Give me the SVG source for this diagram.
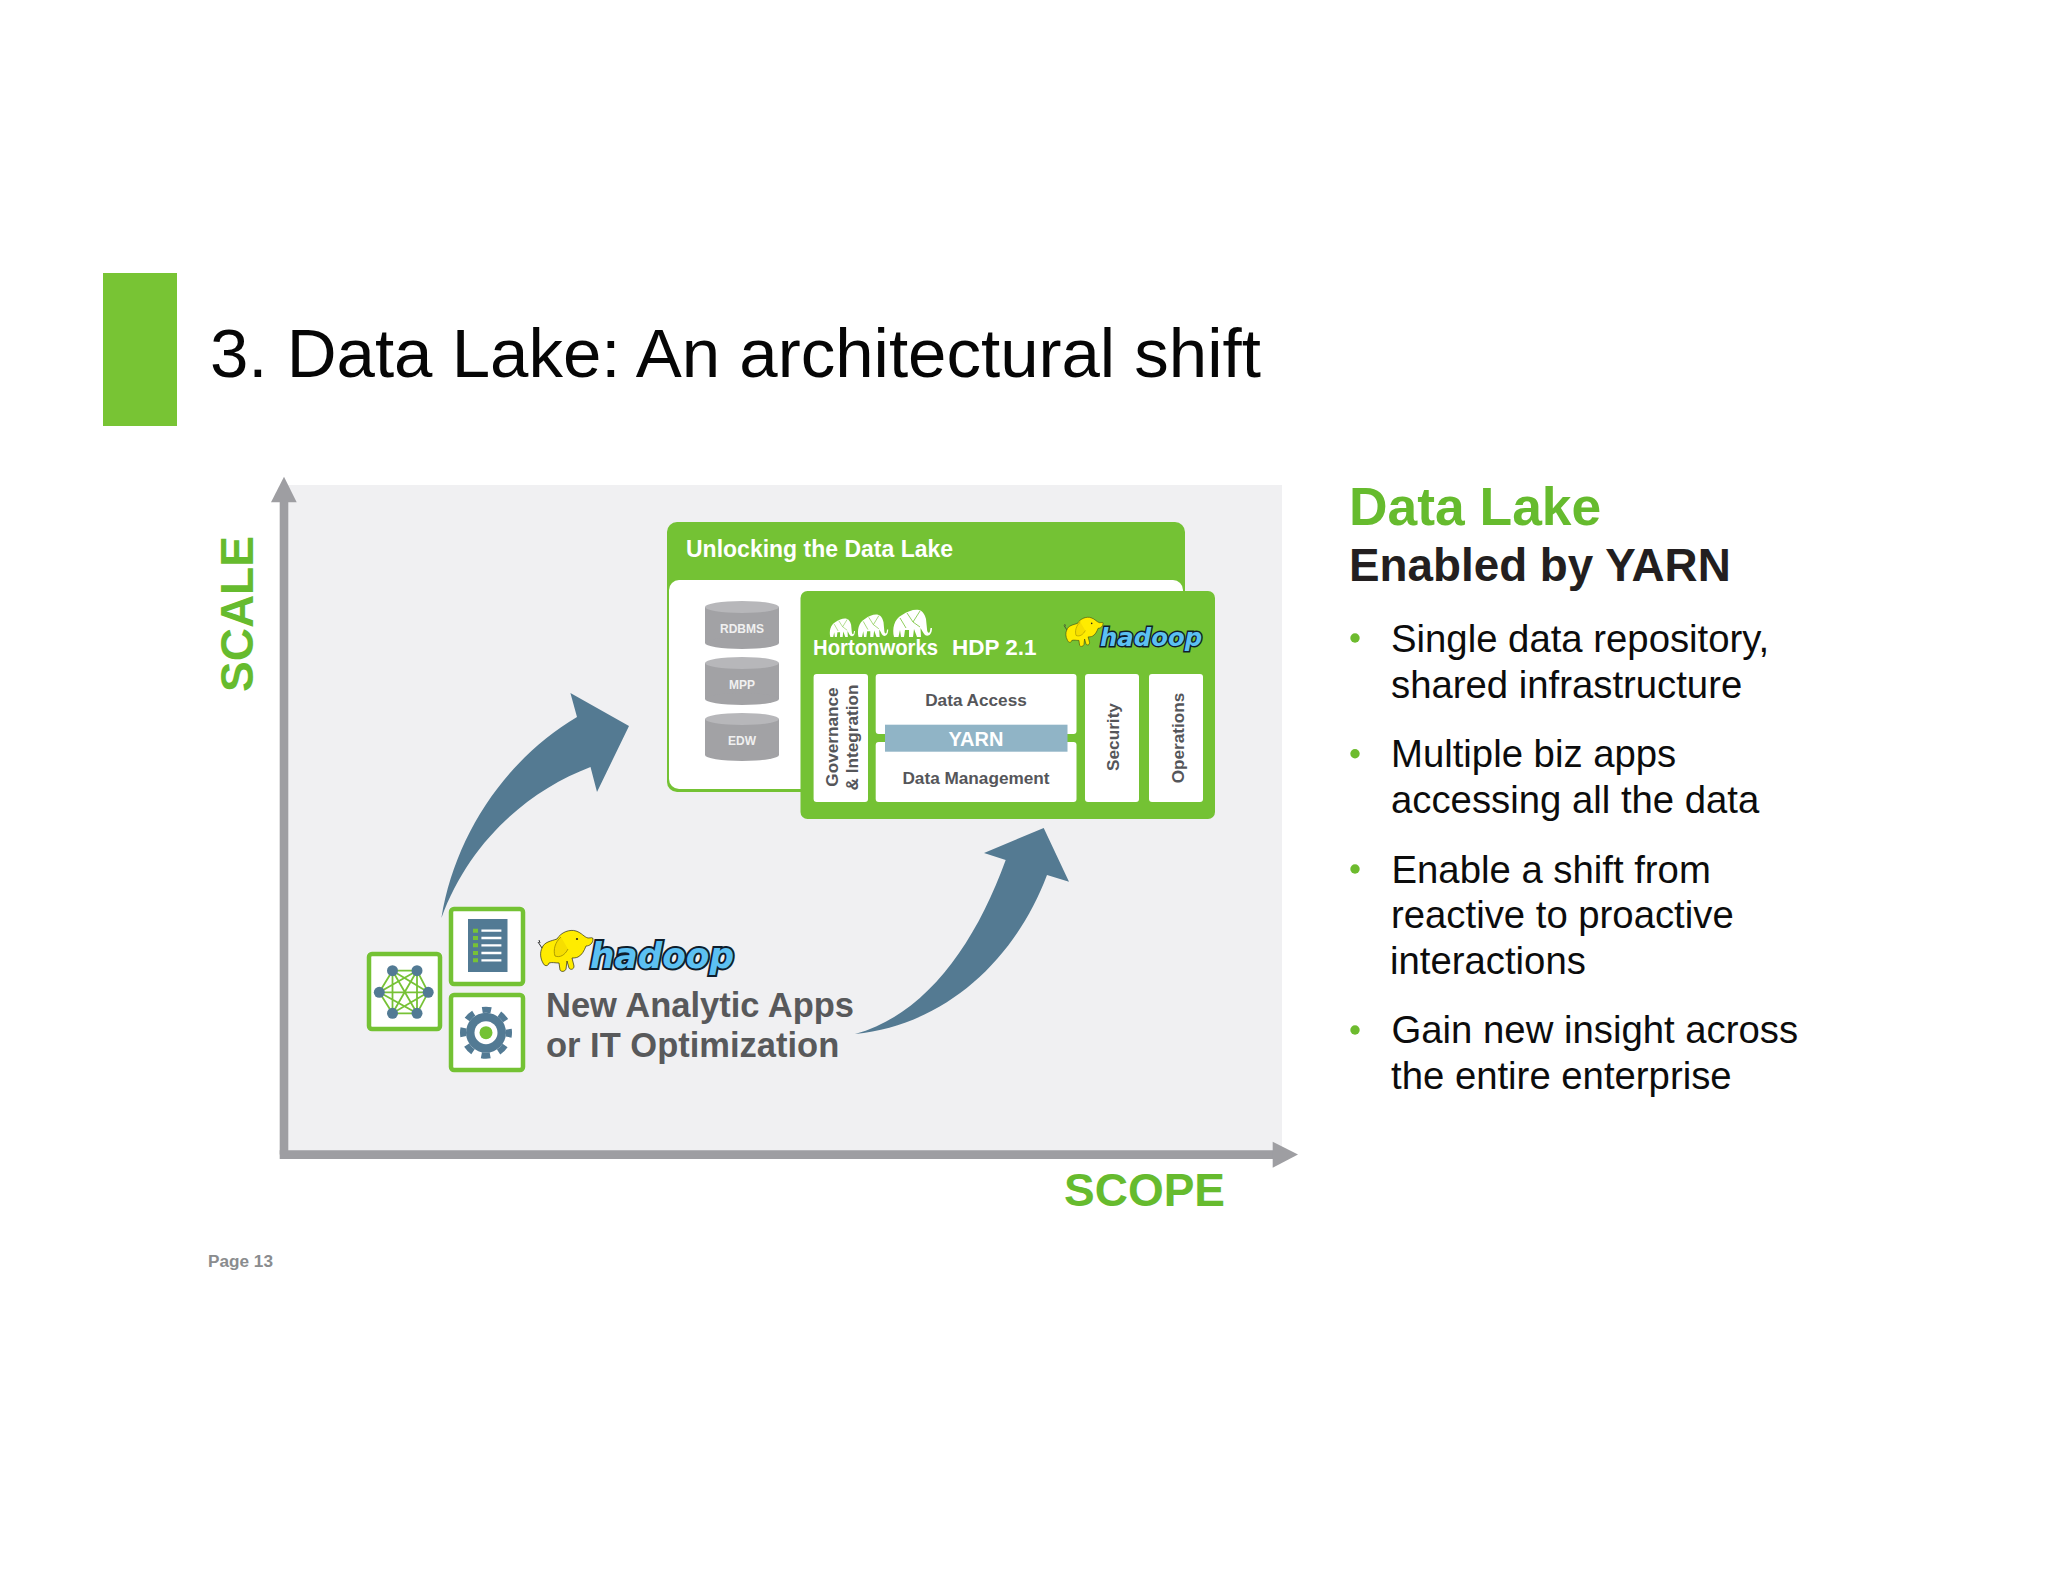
<svg xmlns="http://www.w3.org/2000/svg" xmlns:xlink="http://www.w3.org/1999/xlink" width="2048" height="1582" viewBox="0 0 2048 1582">
<style>
text{font-family:"Liberation Sans",Arial,sans-serif}
.b{font-weight:700}
.green{fill:#66bb2e}
.body{font-size:38.300px;fill:#0c0c0c}
.dot{fill:#6dbb2e}
.col{fill:#fff}
.lbl{font-size:17.200px;font-weight:700;fill:#55565a;text-anchor:middle}
.cyl{font-size:12px;font-weight:700;fill:#f0f0f0;text-anchor:middle}
.box{fill:#fff;stroke:#74c234;stroke-width:4.500}
.wht{font-weight:700;fill:#fff}
.app{font-size:34.500px;font-weight:700;fill:#58595b}
.hd{font-family:"DejaVu Sans","Liberation Sans",sans-serif;font-size:35px;font-weight:700;font-style:italic;fill:#5cc0f2;stroke:#0f1d2b;stroke-width:4px;paint-order:stroke;stroke-linejoin:miter}
.icon{fill:#527a94}
.ln{stroke:#77c236;stroke-width:1.800;fill:none}
</style>
<defs>
<g id="yellow">
<path d="M4 18C6 12 13 11 19 9C23 2 32-1 38 1C44 3 46 7 50 8C53 8 55 7 55 9C55 13 52 16 48 16C46 21 44 25 40 27C38 28 35 28 34 28L36 36C36 40 32 40 31 38L29 31L28 39C27 42 23 42 22 40L21 33C17 33 14 32 11 33C10 37 6 36 5 33C2 28 2 22 4 18Z" fill="#ffec00" stroke="#2a2a10" stroke-width=".7"/>
<path d="M23 7C17 12 15 20 17 26C22 28 27 25 30 19" fill="#f6de00" stroke="#9a8a00" stroke-width=".8"/>
<circle cx="39" cy="9" r="1.100" fill="#222"/>
<path d="M4 18L0 12M1 10L2 13" stroke="#333" stroke-width="1" fill="none"/>
</g>
<g id="white-el">
<path d="M2 28C0 20 2 10 10 6C16 2 22 0 27 1C31 2 33 6 34 10L35 20C35 24 37.500 25 38 22L38.500 19L40 19C40 26 36 28 33 26C31 24 30 21 28.500 19L29 28L25 28L22 20L21 28L17 28L17 21L13 21L12 28L9 28L8 21L6.500 28Z" fill="#fff"/>
<path d="M15 4L21 13L28 2M21 13L28 18M8 9L14 19" stroke="#74c234" stroke-width=".8" fill="none"/>
</g>
<g id="cyl">
<rect x="705" y="0" width="74" height="36" fill="#a2a2a5"/>
<ellipse cx="742" cy="36" rx="37" ry="6" fill="#a2a2a5"/>
<ellipse cx="742" cy="0" rx="37" ry="6" fill="#b7b7ba"/>
</g>
</defs>
<rect width="2048" height="1582" fill="#fff"/>
<rect id="accent-bar" x="103" y="273" width="74" height="153" fill="#78c434"/>
<text id="title" x="210" y="377" font-size="69" fill="#060606">3. Data Lake: An architectural shift</text>
<rect id="panel" x="288" y="485" width="994" height="666" fill="#f0f0f2"/>

<g id="connectors">
<path d="M284 1154.500V500" fill="none" stroke="#9e9ea2" stroke-width="8.600"/>
<polygon points="284,476.700 296.700,502.300 271,502.300" fill="#9e9ea2"/>
<path d="M279.700 1154.600H1275" fill="none" stroke="#9e9ea2" stroke-width="8.800"/>
<polygon points="1298,1154.500 1272.700,1141.700 1272.700,1167.700" fill="#9e9ea2"/>
<path d="M441.400 918C455 835 505 760 577 717L570.400 693L629 726L597 792L590.500 767C530 790 470 840 441.400 918Z" fill="#547a92"/>
<path d="M855 1034C925 1015 975 945 1005.700 860L984 853L1043.700 828L1069 881.700L1047 875C1015 960 945 1025 855 1034Z" fill="#547a92"/>
</g>

<g id="node-unlocking">
<rect x="667" y="522" width="518" height="270" rx="10" fill="#74c234"/>
<rect x="669" y="580" width="514" height="209" rx="10" fill="#fff"/>
<text class="wht" x="686" y="557" font-size="23">Unlocking the Data Lake</text>
</g>
<g id="node-rdbms"><use xlink:href="#cyl" href="#cyl" y="607"/><text class="cyl" x="742" y="633">RDBMS</text></g>
<g id="node-mpp"><use xlink:href="#cyl" href="#cyl" y="663"/><text class="cyl" x="742" y="689">MPP</text></g>
<g id="node-edw"><use xlink:href="#cyl" href="#cyl" y="719"/><text class="cyl" x="742" y="745">EDW</text></g>

<g id="node-hdp">
<rect x="800.500" y="591" width="414.500" height="228" rx="7" fill="#74c234"/>
<use xlink:href="#white-el" href="#white-el" transform="translate(829 618) scale(.65 .68)"/>
<use xlink:href="#white-el" href="#white-el" transform="translate(857 614) scale(.78 .82)"/>
<use xlink:href="#white-el" href="#white-el" transform="translate(892 609)"/>
<text class="wht" x="813" y="655" font-size="22" textLength="125" lengthAdjust="spacingAndGlyphs">Hortonworks</text>
<text class="wht" x="952" y="655" font-size="22.500">HDP 2.1</text>
<use xlink:href="#yellow" href="#yellow" transform="translate(1064 617) scale(.71)"/>
<text class="hd" x="0" y="0" transform="translate(1100 646) scale(.71)" textLength="144" lengthAdjust="spacingAndGlyphs">hadoop</text>
</g>
<g id="node-governance">
<rect class="col" x="813.600" y="674" width="54.400" height="128" rx="3"/>
<text class="lbl" transform="translate(837.700 737) rotate(-90)">Governance</text>
<text class="lbl" transform="translate(857.500 737.500) rotate(-90)">&amp; Integration</text>
</g>
<g id="node-data-access">
<rect class="col" x="875.700" y="674" width="200.800" height="60" rx="3"/>
<text class="lbl" x="976" y="706">Data Access</text>
</g>
<g id="node-data-management">
<rect class="col" x="875.700" y="742" width="200.800" height="60" rx="3"/>
<text class="lbl" x="976" y="784">Data Management</text>
</g>
<g id="node-yarn">
<rect x="885" y="724.700" width="182.500" height="27" fill="#90b4c6"/>
<text class="wht" x="976" y="746" font-size="20" text-anchor="middle">YARN</text>
</g>
<g id="node-security">
<rect class="col" x="1085" y="674" width="54" height="128" rx="3"/>
<text class="lbl" transform="translate(1119 737) rotate(-90)">Security</text>
</g>
<g id="node-operations">
<rect class="col" x="1149" y="674" width="54" height="128" rx="3"/>
<text class="lbl" transform="translate(1183.700 738) rotate(-90)">Operations</text>
</g>

<g id="node-network">
<rect class="box" x="369" y="954" width="71" height="75" rx="3"/>
<path class="ln" d="M392.500 970.700L417 970.700L428.200 992.300L417 1013.300L392.500 1013.300L379.300 992.300ZM392.500 970.700L428.200 992.300L392.500 1013.300ZM417 970.700L379.300 992.300L417 1013.300ZM392.500 970.700L417 1013.300M417 970.700L392.500 1013.300M379.300 992.300H428.200"/>
<g class="icon"><circle cx="392.500" cy="970.700" r="5.500"/><circle cx="417" cy="970.700" r="5.500"/><circle cx="379.300" cy="992.300" r="5.500"/><circle cx="428.200" cy="992.300" r="5.500"/><circle cx="392.500" cy="1013.300" r="5.500"/><circle cx="417" cy="1013.300" r="5.500"/></g>
</g>
<g id="node-doc">
<rect class="box" x="451" y="909" width="72" height="75" rx="3"/>
<rect class="icon" x="468" y="919" width="39.500" height="53"/>
<path d="M481.400 930.700H501.400M481.400 938H501.400M481.400 945.300H501.400M481.400 953H501.400M481.400 960.300H501.400" stroke="#fff" stroke-width="2.300"/>
<path d="M473 930.700H478M473 938H478M473 945.300H478M473 953H478M473 960.300H478" stroke="#77c236" stroke-width="4"/>
</g>
<g id="node-gear">
<rect class="box" x="451" y="995" width="72" height="75" rx="3"/>
<circle class="icon" cx="486" cy="1032.700" r="20"/>
<circle cx="486" cy="1032.700" r="23" fill="none" stroke="#527a94" stroke-width="6" stroke-dasharray="9 9.060" stroke-dashoffset="4.500"/>
<circle cx="486" cy="1032.700" r="11.500" fill="#fff"/>
<circle cx="486" cy="1032.700" r="6.500" fill="#74c234"/>
</g>

<g id="node-hadoop">
<use xlink:href="#yellow" href="#yellow" transform="translate(538 930)"/>
<text class="hd" x="590" y="968" textLength="144" lengthAdjust="spacingAndGlyphs">hadoop</text>
<text class="app" x="546" y="1016.500">New Analytic Apps</text>
<text class="app" x="546" y="1057">or IT Optimization</text>
</g>

<text id="label-scale" class="b green" font-size="46" transform="translate(252.500 692) rotate(-90)">SCALE</text>
<text id="label-scope" class="b green" x="1064" y="1206" font-size="46">SCOPE</text>
<text id="page" class="b" x="208" y="1266.700" font-size="17.200" fill="#8a8c8e">Page 13</text>

<g id="sidebar">
<text class="b green" x="1349" y="525" font-size="53.400">Data Lake</text>
<text class="b" x="1349" y="581" font-size="45.800" fill="#231f20">Enabled by YARN</text>
<circle class="dot" cx="1355" cy="638" r="4.700"/>
<text class="body" x="1391" y="652">Single data repository,</text>
<text class="body" x="1391" y="698">shared infrastructure</text>
<circle class="dot" cx="1355" cy="753.700" r="4.700"/>
<text class="body" x="1391" y="767">Multiple biz apps</text>
<text class="body" x="1391" y="813">accessing all the data</text>
<circle class="dot" cx="1355" cy="869" r="4.700"/>
<text class="body" x="1391.500" y="882.500">Enable a shift from</text>
<text class="body" x="1391" y="928">reactive to proactive</text>
<text class="body" x="1390" y="974">interactions</text>
<circle class="dot" cx="1355" cy="1030" r="4.700"/>
<text class="body" x="1391.500" y="1043">Gain new insight across</text>
<text class="body" x="1391" y="1089">the entire enterprise</text>
</g>
</svg>
